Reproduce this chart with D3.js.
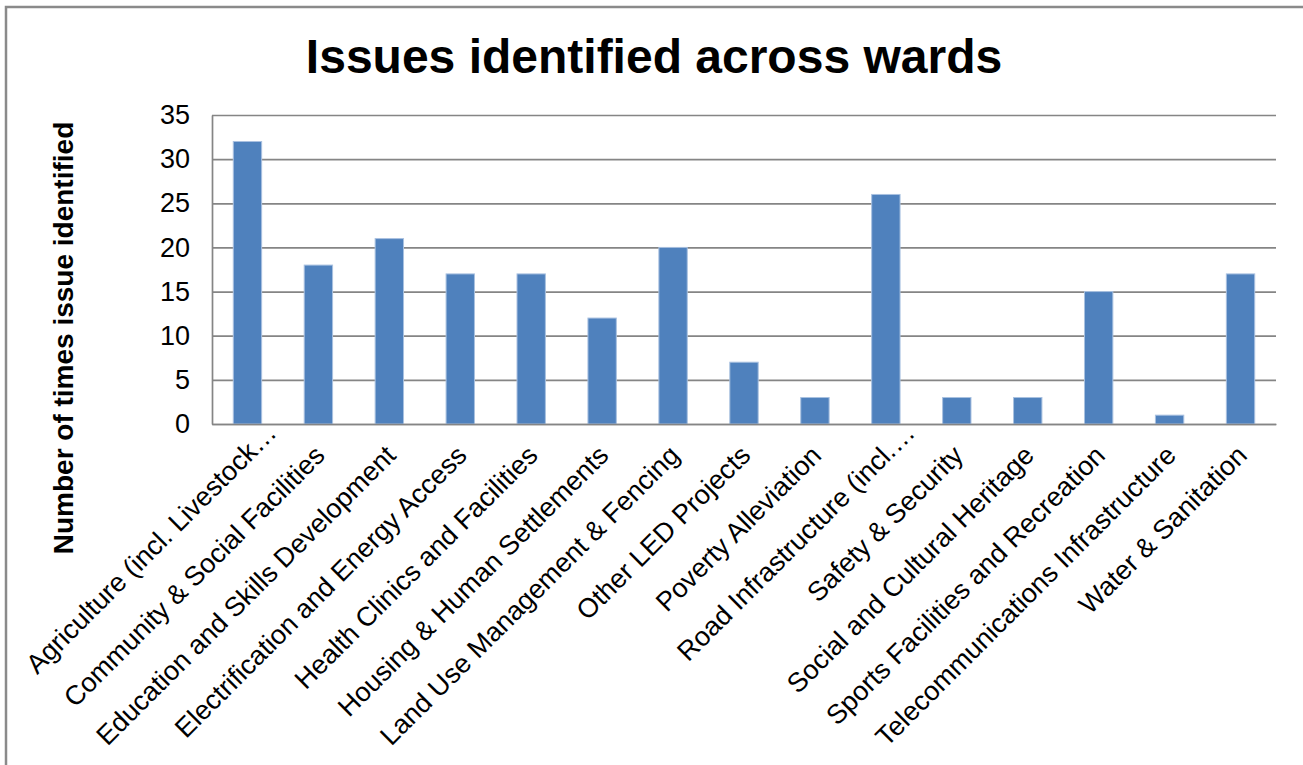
<!DOCTYPE html>
<html>
<head>
<meta charset="utf-8">
<script src="https://cdn.jsdelivr.net/npm/d3@7/dist/d3.min.js"></script>
<style>
  html, body { margin: 0; padding: 0; background: #ffffff; }
  svg { display: block; font-family: "Liberation Sans", Arial, sans-serif; }
</style>
</head>
<body>
<svg id="chart" width="1303" height="765"></svg>
<script>
// Issue categories as they appear on the axis (long ones are shortened with an ellipsis)
const categories = [
  "Agriculture (incl. Livestock\u2026",
  "Community & Social Facilities",
  "Education and Skills Development",
  "Electrification and Energy Access",
  "Health Clinics and Facilities",
  "Housing & Human Settlements",
  "Land Use Management & Fencing",
  "Other LED Projects",
  "Poverty Alleviation",
  "Road Infrastructure (incl.\u2026",
  "Safety & Security",
  "Social and Cultural Heritage",
  "Sports Facilities and Recreation",
  "Telecommunications Infrastructure",
  "Water & Sanitation"
];

// Number of times each issue was identified
const counts = [32, 18, 21, 17, 17, 12, 20, 7, 3, 26, 3, 3, 15, 1, 17];

// Value axis ticks
const yTicks = [0, 5, 10, 15, 20, 25, 30, 35];

const chartTitle = "Issues identified across wards";
const yTitle = "Number of times issue identified";

const svg = d3.select("#chart");
const W = 1303, H = 765;

svg.append("rect").attr("width", W).attr("height", H).attr("fill", "#ffffff");

// Chart-area frame
svg.append("rect")
  .attr("x", 6).attr("y", 7)
  .attr("width", 1320).attr("height", 800)
  .attr("fill", "none")
  .attr("stroke", "#8a8a8a")
  .attr("stroke-width", 2.5);

const plot = { left: 212, right: 1276, top: 115, bottom: 424 };

const x = d3.scaleBand()
  .domain(categories)
  .range([plot.left, plot.right])
  .paddingInner(0.6)
  .paddingOuter(0.3);

const y = d3.scaleLinear()
  .domain([0, 35])
  .range([plot.bottom, plot.top]);

// Horizontal gridlines
svg.append("g")
  .attr("class", "grid")
  .attr("transform", `translate(${plot.left},0)`)
  .call(d3.axisLeft(y).tickValues(yTicks).tickSize(-(plot.right - plot.left)).tickFormat(""))
  .call(g => g.select(".domain").remove())
  .call(g => g.selectAll("line").attr("stroke", "#858585").attr("stroke-width", 1.7));

// Bars
svg.append("g")
  .selectAll("rect")
  .data(counts)
  .join("rect")
  .attr("x", (d, i) => x(categories[i]))
  .attr("y", d => y(d))
  .attr("width", x.bandwidth())
  .attr("height", d => y(0) - y(d))
  .attr("fill", "#4f81bd")
  .attr("stroke", "#a9c1e0")
  .attr("stroke-width", 1);

// Value axis
const yAxis = svg.append("g")
  .attr("transform", `translate(${plot.left},0)`)
  .call(d3.axisLeft(y).tickValues(yTicks).tickSize(0).tickPadding(22).tickFormat(d3.format("d")));
yAxis.select(".domain").attr("stroke", "#858585").attr("stroke-width", 1.7);
yAxis.selectAll("text")
  .attr("font-size", 27)
  .attr("font-family", "Liberation Sans, Arial, sans-serif")
  .attr("fill", "#000");

// Category axis with slanted labels
const xAxis = svg.append("g")
  .attr("transform", `translate(0,${plot.bottom})`)
  .call(d3.axisBottom(x).tickSize(0));
xAxis.select(".domain").attr("stroke", "#858585").attr("stroke-width", 1.7);
xAxis.selectAll("text")
  .attr("font-size", 27)
  .attr("font-family", "Liberation Sans, Arial, sans-serif")
  .attr("fill", "#000")
  .attr("text-anchor", "end")
  .attr("x", 0)
  .attr("y", 0)
  .attr("dy", 0)
  // shortened labels sit a little further along their slant
  .attr("dx", d => d.endsWith("\u2026") ? 32 : 0)
  .attr("transform", "translate(8,33) rotate(-45)");

// Title
svg.append("text")
  .attr("x", 654)
  .attr("y", 73)
  .attr("text-anchor", "middle")
  .attr("font-size", 48)
  .attr("font-weight", "bold")
  .attr("fill", "#000")
  .text(chartTitle);

// Value axis title
svg.append("text")
  .attr("transform", "translate(73,338) rotate(-90)")
  .attr("text-anchor", "middle")
  .attr("font-size", 28)
  .attr("font-weight", "bold")
  .attr("fill", "#000")
  .text(yTitle);
</script>
</body>
</html>
